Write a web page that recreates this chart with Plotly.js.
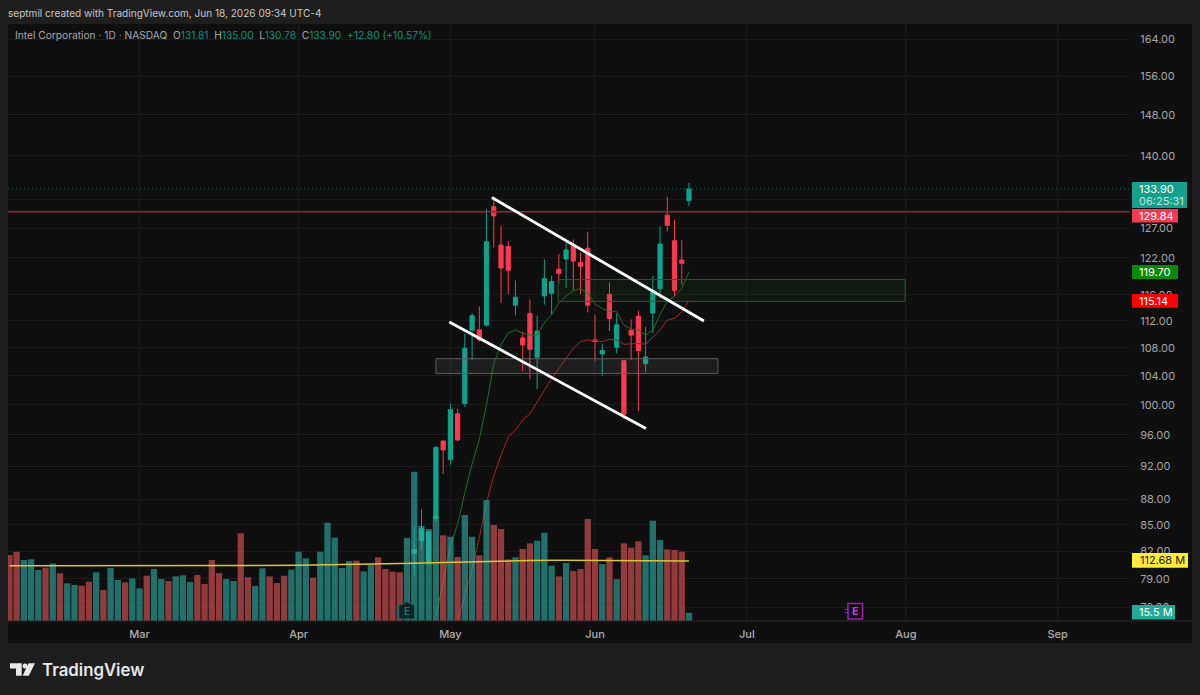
<!DOCTYPE html>
<html><head><meta charset="utf-8">
<script src="https://cdn.plot.ly/plotly-3.0.1.min.js"></script>
<style>html,body{margin:0;padding:0;background:#1e1e1e;overflow:hidden}#c{width:1200px;height:695px}</style>
</head><body><div id="c"></div>
<script>
// ---- data ----
const monthTickIdx = [18,40,61,81,102,124,145];
const monthTickText = ['Mar','Apr','May','Jun','Jul','Aug','Sep'];
const priceTicks = [76,79,82,85,88,92,96,100,104,108,112,116,122,127,132,140,148,156,164];
const volumeM = [124,130,114.5,115.8,95.7,100,108,89.5,70.7,67.6,66.3,73.8,91.4,58.2,99.5,77,72.6,80,61.3,85,97.6,78.8,75,83.8,85.7,73.2,86.3,69.4,114.5,90,78.8,75,164.6,82,65.7,98.9,83.8,71.3,85,96.4,130,117.6,81.3,130,184.6,156.5,99.5,112.6,
113.3,93.2,106.4,119.5,97.6,92.6,91.4,155.8,280.4,178.4,172.7,197,160.8,158.3,120.2,199,158.3,123.3,227,180.3,172.7,115.8,119.5,135.2,145.8,150.8,165.8,103.9,83.8,108.9,93.9,97.6,191.5,135.2,107,119.5,78.2,145.8,137.7,149.6,123.3,188.4,152,134.6,133.3,130.2,15.5];
const volumeDir = 'rrgggrgrggrrgrggrggrggrgggrrrrggrrggrrrgggrggggg' + 'rggrrrrgggggrgrggrgrrrgrrgggrgrrrrgrgrrrgggrrrg';
const volMaIdx = [0,10,20,30,40,48,52,56,60,64,68,72,76,80,84,88,91,94];
const volMa = [103.9,104,104.2,104,104.5,106.5,106.8,108.4,110,111.4,112.5,113.5,114,114,114,113,113,112.68];
const candleStart = 56;
const open  = [81.77,83.22,80.74,85.71,95.21,92.84,98.77,100.16,110.6,110.65,111.38,130.72,124.12,123.9,114.4,109.45,113.15,106.62,115.9,116.27,120.12,121.78,124.12,121.23,123.57,109.16,107.11,116.11,108.08,106.14,110.6,112.73,105.7,113.2,117,129.23,124.84,121.62,131.81];
const high  = [84.85,86.81,84.29,94.5,95.26,100.16,99.46,110.08,113.2,114.24,130.3,132.15,127.42,124.79,118.3,110.37,115.29,112.79,121.73,119.09,122.57,125.07,125.07,122.84,126.34,112.95,108.58,117.99,113.15,106.18,112.23,113.57,111.1,119.04,127.29,132.51,128.39,124.91,135];
const low   = [79.3,82.22,80.52,85.35,91.06,92.2,95.17,99.69,106.24,108.91,111.13,123.67,114.75,116.16,112.84,104.63,103.48,102.12,114.5,112.95,117.78,117.1,116.74,116.16,113.3,106.09,103.98,110.47,107.2,98.09,106.24,99.14,104.48,110.22,115.53,126.46,115.8,117.62,130.78];
const close = [82.22,84.55,84.18,94.41,94.06,99.32,95.34,107.93,112.79,109.16,124.67,129.1,120.33,119.95,115.64,108.43,107.78,110.47,118.61,118.14,119.43,123.29,121.45,120.57,114.4,108.91,107.6,112.37,111.43,98.73,109.88,107.6,106.68,116.69,124.29,127.46,116.69,121.1,133.9];
const fastMaStart = 59;
const fastMa = [75.13,78.58,82.63,85.05,88.8,92.28,95.41,99.98,105.74,108.45,110.18,110.62,110.18,109.88,109.93,111.73,112.95,114.75,115.8,116.69,117,116.32,114.6,113.9,113.46,113.46,111.38,110.76,110.62,109.88,110.62,112.95,115.02,115.8,117,119.7];
const slowMaStart = 62;
const slowMa = [74.62,77.2,80.01,83.52,87.61,90.81,93.39,95.72,96.66,97.96,98.77,100.39,102.06,103.6,105.01,106.47,107.93,108.91,109.16,109.06,108.91,109.25,109.16,108.51,108.57,108.66,108.51,109.64,110.62,112.14,112.39,113.46,115.14];
const lastPrice = 133.9, levelPrice = 129.84;
const upperLine = {x:[66.75,96.07], y:[132.35,112]};
const lowerLine = {x:[60.85,88.05], y:[111.85,96.82]};
const greyZone  = {x:[59,98], y:[104.32,106.42]};
const greenZone = {x:[75.9,123.9], y:[115,118.45]};

// ---- layout constants ----
const L=8,R=1130,T=24,B=621,W=R-L,H=B-T;
const px=v=>(v-L)/W, py=v=>(B-v)/H;
const TEAL='#0fa38b',RED='#fb3a50',VT='rgba(47,177,168,0.6)',VR='rgba(235,87,90,0.6)';
const FONT='Inter, "Noto Sans", sans-serif';
const idx=(s,a)=>a.map((_,i)=>s+i);

const traces=[
 {type:'candlestick',x:idx(candleStart,open),open,high,low,close,xaxis:'x',yaxis:'y',whiskerwidth:0,
  increasing:{line:{color:TEAL,width:1},fillcolor:TEAL},decreasing:{line:{color:RED,width:1},fillcolor:RED},hoverinfo:'skip'},
 {type:'scatter',mode:'lines',x:idx(fastMaStart,fastMa),y:fastMa,xaxis:'x',yaxis:'y',line:{color:'#1f6e2a',width:1},hoverinfo:'skip'},
 {type:'scatter',mode:'lines',x:idx(slowMaStart,slowMa),y:slowMa,xaxis:'x',yaxis:'y',line:{color:'#a32424',width:1},hoverinfo:'skip'},
 {type:'bar',x:idx(0,volumeM),y:volumeM,xaxis:'x',yaxis:'y2',marker:{color:volumeM.map((_,i)=>volumeDir[i]==='g'?VT:VR),line:{width:0}},hoverinfo:'skip'},
 {type:'scatter',mode:'lines',x:volMaIdx,y:volMa,xaxis:'x',yaxis:'y2',line:{color:'#d9c53a',width:1.5},hoverinfo:'skip'}
];

const hline=(v,color,width,dash)=>({type:'line',xref:'paper',x0:0,x1:1,yref:'y',y0:v,y1:v,line:{color,width,dash}});
const box=(x0,x1,y0,y1,fill)=>({type:'rect',xref:'paper',yref:'paper',x0:px(x0),x1:px(x1),y0:py(y1),y1:py(y0),fillcolor:fill,line:{width:0}});
const shapes=[
 {type:'rect',xref:'paper',yref:'paper',x0:0,x1:px(1192),y0:py(643),y1:1,fillcolor:'#0f0f0f',line:{width:0},layer:'below'},
 {type:'line',xref:'paper',yref:'paper',x0:0,x1:px(1192),y0:0,y1:0,line:{color:'#2a2a2a',width:1}},
 hline(lastPrice,'#1c6f64',1,'1px,3px'),
 hline(levelPrice,'#8e2a35',1.6,'solid'),
 {type:'rect',xref:'x',yref:'y',x0:greyZone.x[0],x1:greyZone.x[1],y0:greyZone.y[0],y1:greyZone.y[1],fillcolor:'rgba(130,130,130,0.14)',line:{color:'#5c5c5c',width:1}},
 {type:'rect',xref:'x',yref:'y',x0:greenZone.x[0],x1:greenZone.x[1],y0:greenZone.y[0],y1:greenZone.y[1],fillcolor:'rgba(40,110,40,0.10)',line:{color:'#2b5a2e',width:1}},
 {type:'line',xref:'x',yref:'y',x0:upperLine.x[0],x1:upperLine.x[1],y0:upperLine.y[0],y1:upperLine.y[1],line:{color:'#ffffff',width:2.8}},
 {type:'line',xref:'x',yref:'y',x0:lowerLine.x[0],x1:lowerLine.x[1],y0:lowerLine.y[0],y1:lowerLine.y[1],line:{color:'#ffffff',width:2.8}},
 // price scale tags
 box(1132,1187,182,208,'#14a08c'),
 box(1132,1178,209,222.5,'#f23b52'),
 box(1132,1178,265,279,'#0a8a0a'),
 box(1132,1178,294,307.7,'#ff0000'),
 box(1132,1188,553,567.7,'#ffeb3b'),
 box(1132,1175,605,619.5,'#22ab94'),
 // earnings hexagon
 {type:'path',xref:'paper',yref:'paper',fillcolor:'#0e2422',line:{color:'#1c6b62',width:1.2},
  path:`M${px(406.7)},${py(601.5)} L${px(414.7)},${py(605.5)} L${px(414.7)},${py(619)} L${px(398.7)},${py(619)} L${px(398.7)},${py(605.5)} Z`},
 // purple earnings box
 {type:'rect',xref:'paper',yref:'paper',x0:px(848),x1:px(862.5),y0:py(619),y1:py(603.5),fillcolor:'#0f0f0f',line:{color:'#9a22b8',width:1.5}},
 {type:'line',xref:'paper',yref:'paper',x0:px(845),x1:px(848),y0:py(609.5),y1:py(609.5),line:{color:'#9a22b8',width:1}},
 {type:'line',xref:'paper',yref:'paper',x0:px(845),x1:px(848),y0:py(612.5),y1:py(612.5),line:{color:'#9a22b8',width:1}},
 // logo
 {type:'path',xref:'paper',yref:'paper',fillcolor:'#e8e8e8',line:{width:0},
  path:`M${px(10)},${py(663.3)} L${px(21.7)},${py(663.3)} L${px(21.7)},${py(675.7)} L${px(16)},${py(675.7)} L${px(16)},${py(668.6)} L${px(10)},${py(668.6)} Z`},
 {type:'circle',xref:'paper',yref:'paper',x0:px(22.6),x1:px(27.6),y0:py(668.6),y1:py(663.6),fillcolor:'#e8e8e8',line:{width:0}},
 {type:'path',xref:'paper',yref:'paper',fillcolor:'#e8e8e8',line:{width:0},
  path:`M${px(28.6)},${py(663.3)} L${px(35)},${py(663.3)} L${px(28.8)},${py(675.7)} L${px(22.6)},${py(675.7)} Z`}
];

const note=(text,x,y,opt={})=>Object.assign({text,xref:'paper',yref:'paper',x:px(x-2),y:py(y),xanchor:'left',yanchor:'middle',showarrow:false,font:{family:FONT,size:11,color:'#c4c4c4'},align:'left'},opt);
const tagFont=(color)=>({family:FONT,size:11,color});
const G='#0d8f78';
const annotations=[
 note('septmil created with TradingView.com, Jun 18, 2026 09:34 UTC-4',8,13,{font:{family:FONT,size:10.05,color:'#c8c8c8'}}),
 note(`Intel Corporation · 1D · NASDAQ  O<span style="color:${G}">131.81</span>  H<span style="color:${G}">135.00</span>  L<span style="color:${G}">130.78</span>  C<span style="color:${G}">133.90</span>  <span style="color:${G}">+12.80 (+10.57%)</span>`,15,35,{font:{family:FONT,size:10.2,color:'#a8a8a8'}}),
 note('TradingView',41.5,670,{font:{family:FONT,size:16.8,color:'#e8e8e8',weight:600}}),
 note('E',408.7,611,{xanchor:'center',font:{family:FONT,size:10,color:'#2a8a7e'}}),
 note('E',857.2,611.3,{xanchor:'center',font:{family:FONT,size:11,color:'#c23fe0',weight:700}}),
 note('133.90',1139,189,{font:tagFont('#ffffff')}),
 note('06:25:31',1139,201,{font:tagFont('#bfe6df')}),
 note('129.84',1139,215.7,{font:tagFont('#ffffff')}),
 note('119.70',1139,272,{font:tagFont('#ffffff')}),
 note('115.14',1139,300.8,{font:tagFont('#ffffff')}),
 note('112.68 M',1139.5,560.4,{font:tagFont('#1a1a1a')}),
 note('15.5 M',1139,612.2,{font:tagFont('#ffffff')})
];

const layout={
 width:1200,height:695,margin:{l:L,r:1200-R,t:T,b:695-B,pad:0},
 paper_bgcolor:'#1e1e1e',plot_bgcolor:'#0f0f0f',showlegend:false,bargap:0.13,boxgap:0.17,
 font:{family:FONT},
 xaxis:{type:'linear',range:[-0.19,155],tickmode:'array',tickvals:monthTickIdx,ticktext:monthTickText,showgrid:true,gridcolor:'#1b1b1b',gridwidth:1,zeroline:false,showline:false,ticks:'outside',ticklen:3,tickcolor:'rgba(0,0,0,0)',tickfont:{family:FONT,size:11,color:'#b0b0b0',weight:500},rangeslider:{visible:false},fixedrange:true},
 yaxis:{type:'log',side:'right',range:[Math.log10(74.63),Math.log10(167.37)],tickmode:'array',tickvals:priceTicks,ticktext:priceTicks.map(v=>v.toFixed(2)),showgrid:true,gridcolor:'#1b1b1b',gridwidth:1,zeroline:false,showline:false,ticks:'outside',ticklen:7,tickcolor:'rgba(0,0,0,0)',tickfont:{family:FONT,size:11,color:'#a6a6a6'},fixedrange:true},
 yaxis2:{overlaying:'y',side:'left',range:[0,1121],showgrid:false,zeroline:false,showticklabels:false,fixedrange:true},
 shapes,annotations,dragmode:false,hovermode:false
};
Plotly.newPlot('c',traces,layout,{displayModeBar:false,staticPlot:true});
</script></body></html>
